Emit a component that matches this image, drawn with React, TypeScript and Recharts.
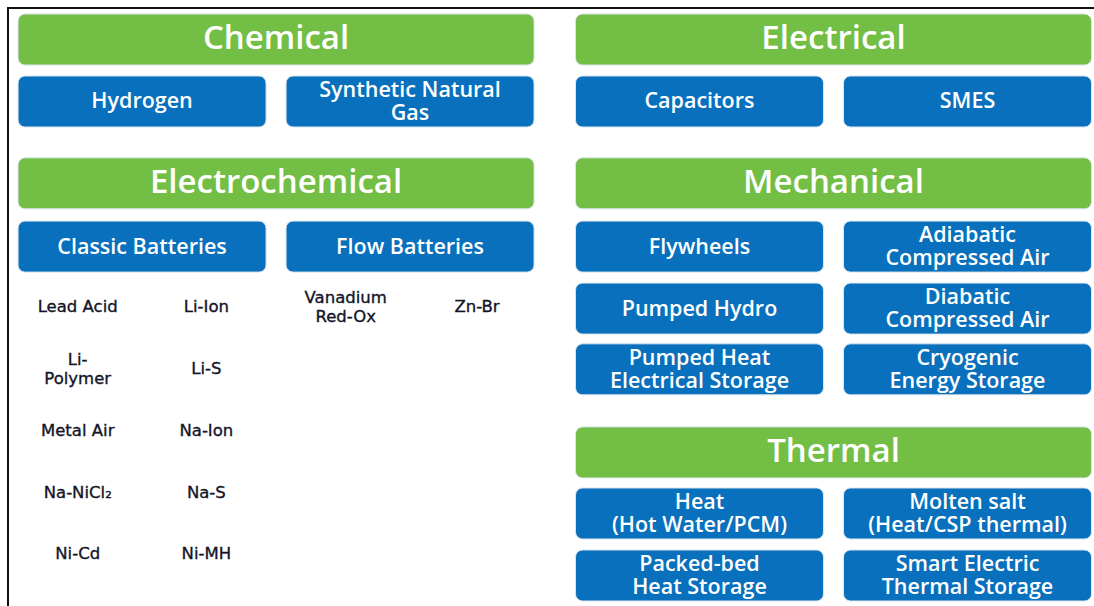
import React from 'react';
import { ScatterChart, Scatter, XAxis, YAxis } from 'recharts';

// layout grid: col = box column (0..3), row = box row (62px pitch)
const headers = [
  { name: 'Chemical', col: 0.5, row: 0 },
  { name: 'Electrical', col: 2.58, row: 0 },
  { name: 'Electrochemical', col: 0.5, row: 2.32 },
  { name: 'Mechanical', col: 2.58, row: 2.32 },
  { name: 'Thermal', col: 2.58, row: 6.66 },
];

const technologies = [
  { name: 'Hydrogen', col: 0, row: 1 },
  { name: 'Synthetic Natural\nGas', col: 1, row: 1 },
  { name: 'Capacitors', col: 2.08, row: 1 },
  { name: 'SMES', col: 3.08, row: 1 },
  { name: 'Classic Batteries', col: 0, row: 3.34 },
  { name: 'Flow Batteries', col: 1, row: 3.34 },
  { name: 'Flywheels', col: 2.08, row: 3.34 },
  { name: 'Adiabatic\nCompressed Air', col: 3.08, row: 3.34 },
  { name: 'Pumped Hydro', col: 2.08, row: 4.34 },
  { name: 'Diabatic\nCompressed Air', col: 3.08, row: 4.34 },
  { name: 'Pumped Heat\nElectrical Storage', col: 2.08, row: 5.32 },
  { name: 'Cryogenic\nEnergy Storage', col: 3.08, row: 5.32 },
  { name: 'Heat\n(Hot Water/PCM)', col: 2.08, row: 7.645 },
  { name: 'Molten salt\n(Heat/CSP thermal)', col: 3.08, row: 7.645 },
  { name: 'Packed-bed\nHeat Storage', col: 2.08, row: 8.645 },
  { name: 'Smart Electric\nThermal Storage', col: 3.08, row: 8.645 },
];

const batteryTypes = [
  { name: 'Lead Acid', col: -0.24, row: 4.3 },
  { name: 'Li-Ion', col: 0.24, row: 4.3 },
  { name: 'Li-\nPolymer', col: -0.24, row: 5.3 },
  { name: 'Li-S', col: 0.24, row: 5.3 },
  { name: 'Metal Air', col: -0.24, row: 6.3 },
  { name: 'Na-Ion', col: 0.24, row: 6.3 },
  { name: 'Na-NiCl₂', col: -0.24, row: 7.3 },
  { name: 'Na-S', col: 0.24, row: 7.3 },
  { name: 'Ni-Cd', col: -0.24, row: 8.28 },
  { name: 'Ni-MH', col: 0.24, row: 8.28 },
  { name: 'Vanadium\nRed-Ox', col: 0.76, row: 4.3 },
  { name: 'Zn-Br', col: 1.25, row: 4.3 },
];

const GREEN = '#73BE44';
const BLUE = '#0870BC';

const Label = ({ x, y, text, size, lineHeight, color, family, weight, stroke }: any) => {
  const lines = String(text).split('\n');
  const start = y - ((lines.length - 1) * lineHeight) / 2;
  return (
    <text
      x={x}
      textAnchor="middle"
      dominantBaseline="central"
      fill={color}
      fontSize={size}
      fontFamily={family}
      fontWeight={weight}
      stroke={stroke ? color : undefined}
      strokeWidth={stroke || 0}
    >
      {lines.map((l, i) => (
        <tspan key={i} x={x} y={start + i * lineHeight}>
          {l}
        </tspan>
      ))}
    </text>
  );
};

const boxShape = (w: number, h: number, fill: string, size: number, lh: number, shift: number) => (props: any) => {
  const { cx, cy, payload } = props;
  return (
    <g>
      <rect
        x={cx - w / 2}
        y={cy - h / 2}
        width={w}
        height={h}
        rx={7}
        fill={fill}
        stroke="#d9e4ee"
        strokeWidth={1}
      />
      <Label
        x={cx}
        y={cy + shift}
        text={payload.name}
        size={size}
        lineHeight={lh}
        color="#fff"
        family="'Open Sans', sans-serif"
        weight={600}
      />
    </g>
  );
};

const textShape = (props: any) => {
  const { cx, cy, payload } = props;
  return (
    <Label
      x={cx}
      y={cy}
      text={payload.name}
      size={16.5}
      lineHeight={19}
      color="#141428"
      family="'DejaVu Sans', sans-serif"
      weight={400}
      stroke={0.35}
    />
  );
};

export default function App() {
  return (
    <div style={{ position: 'absolute', left: 0, top: 0, width: 1094, height: 606, background: '#fff' }}>
      <div
        style={{
          position: 'absolute',
          left: 7,
          top: 7,
          right: 0,
          bottom: 0,
          borderTop: '2px solid #111',
          borderLeft: '2px solid #111',
        }}
      />
      <ScatterChart
        width={1094}
        height={606}
        margin={{ top: 0, right: 0, bottom: 0, left: 0 }}
        style={{ position: 'absolute', left: 0, top: 0 }}
      >
        <XAxis type="number" dataKey="col" domain={[-0.53, 3.552]} hide />
        <YAxis type="number" dataKey="row" domain={[-0.637, 9.137]} reversed hide />
        <Scatter data={headers} isAnimationActive={false} shape={boxShape(516, 51, GREEN, 33, 34, -3)} />
        <Scatter data={technologies} isAnimationActive={false} shape={boxShape(248, 51, BLUE, 21.5, 23, -2)} />
        <Scatter data={batteryTypes} isAnimationActive={false} shape={textShape} />
      </ScatterChart>
    </div>
  );
}
